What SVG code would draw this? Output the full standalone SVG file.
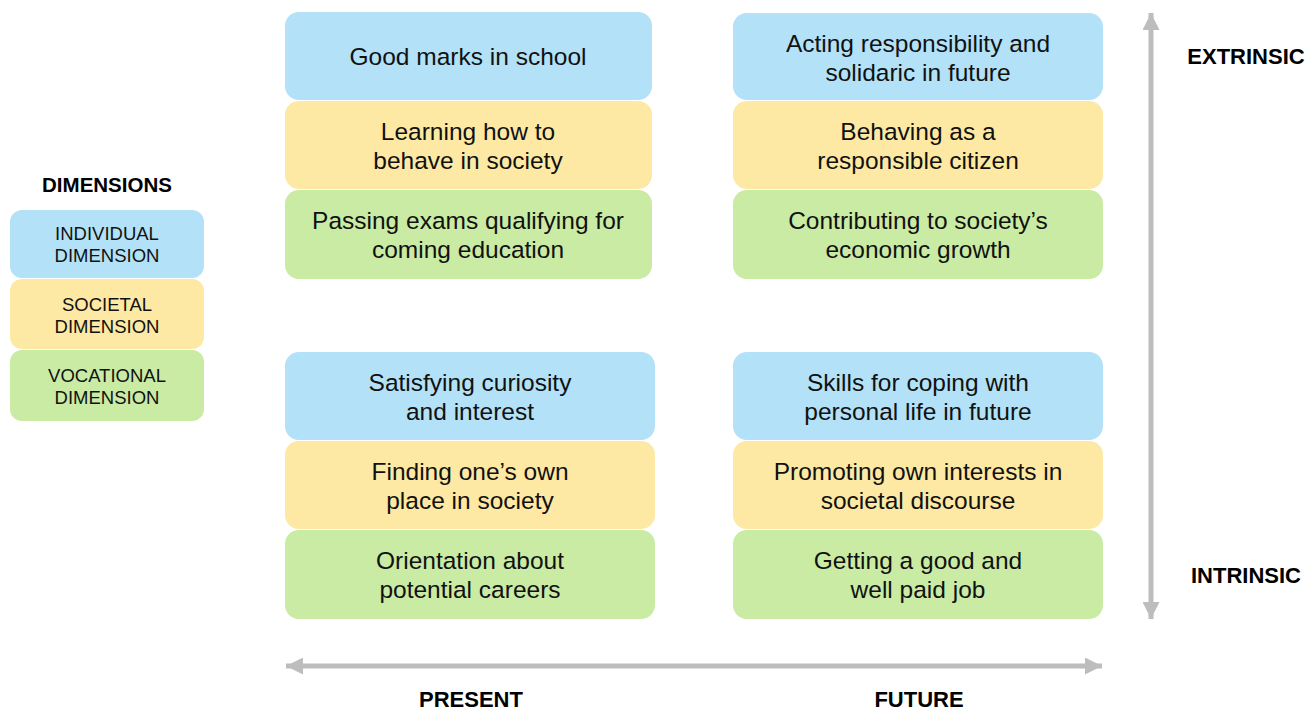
<svg xmlns="http://www.w3.org/2000/svg" width="1308" height="711" viewBox="0 0 1308 711">
<style>
.ind{fill:#b3e1f7}
.soc{fill:#fde9a3}
.voc{fill:#c9eba4}
.t{font-family:"Liberation Sans",Arial,sans-serif;font-size:24.5px;fill:#111;text-anchor:middle}
.lg{font-family:"Liberation Sans",Arial,sans-serif;font-size:18.5px;fill:#111;text-anchor:middle}
.h{font-family:"Liberation Sans",Arial,sans-serif;font-weight:bold;font-size:22px;fill:#000;text-anchor:middle}
.ax{stroke:#bdbdbd;stroke-width:5;fill:none}
</style>
<defs>
<marker id="ah" viewBox="0 0 10 10" refX="10" refY="5" markerWidth="3.4" markerHeight="3.4" markerUnits="strokeWidth" orient="auto-start-reverse">
<path d="M0,0 L10,5 L0,10 z" fill="#bdbdbd"/>
</marker>
</defs>

<g id="legend">
<text class="h" x="107" y="192" style="font-size:20.5px">DIMENSIONS</text>
<g id="legend-individual"><rect class="ind" x="10" y="210" width="194" height="68" rx="12"/><text class="lg" x="107" y="240">INDIVIDUAL</text><text class="lg" x="107" y="262">DIMENSION</text></g>
<g id="legend-societal"><rect class="soc" x="10" y="279" width="194" height="70" rx="12"/><text class="lg" x="107" y="311">SOCIETAL</text><text class="lg" x="107" y="333">DIMENSION</text></g>
<g id="legend-vocational"><rect class="voc" x="10" y="350" width="194" height="71" rx="12"/><text class="lg" x="107" y="382">VOCATIONAL</text><text class="lg" x="107" y="404">DIMENSION</text></g>
</g>

<g id="tl-ind"><rect class="ind" x="285" y="12" width="367" height="88" rx="14"/><text class="t" x="468" y="65">Good marks in school</text></g>
<g id="tl-soc"><rect class="soc" x="285" y="101" width="367" height="88" rx="14"/><text class="t" x="468" y="140">Learning how to</text><text class="t" x="468" y="169">behave in society</text></g>
<g id="tl-voc"><rect class="voc" x="285" y="190" width="367" height="89" rx="14"/><text class="t" x="468" y="229">Passing exams qualifying for</text><text class="t" x="468" y="258">coming education</text></g>

<g id="tr-ind"><rect class="ind" x="733" y="13" width="370" height="87" rx="14"/><text class="t" x="918" y="52">Acting responsibility and</text><text class="t" x="918" y="81">solidaric in future</text></g>
<g id="tr-soc"><rect class="soc" x="733" y="101" width="370" height="88" rx="14"/><text class="t" x="918" y="140">Behaving as a</text><text class="t" x="918" y="169">responsible citizen</text></g>
<g id="tr-voc"><rect class="voc" x="733" y="190" width="370" height="89" rx="14"/><text class="t" x="918" y="229">Contributing to society’s</text><text class="t" x="918" y="258">economic growth</text></g>

<g id="bl-ind"><rect class="ind" x="285" y="352" width="370" height="88" rx="14"/><text class="t" x="470" y="391">Satisfying curiosity</text><text class="t" x="470" y="420">and interest</text></g>
<g id="bl-soc"><rect class="soc" x="285" y="441" width="370" height="88" rx="14"/><text class="t" x="470" y="480">Finding one’s own</text><text class="t" x="470" y="509">place in society</text></g>
<g id="bl-voc"><rect class="voc" x="285" y="530" width="370" height="89" rx="14"/><text class="t" x="470" y="569">Orientation about</text><text class="t" x="470" y="598">potential careers</text></g>

<g id="br-ind"><rect class="ind" x="733" y="352" width="370" height="88" rx="14"/><text class="t" x="918" y="391">Skills for coping with</text><text class="t" x="918" y="420">personal life in future</text></g>
<g id="br-soc"><rect class="soc" x="733" y="441" width="370" height="88" rx="14"/><text class="t" x="918" y="480">Promoting own interests in</text><text class="t" x="918" y="509">societal discourse</text></g>
<g id="br-voc"><rect class="voc" x="733" y="530" width="370" height="89" rx="14"/><text class="t" x="918" y="569">Getting a good and</text><text class="t" x="918" y="598">well paid job</text></g>

<g id="connectors">
<line class="ax" x1="1151" y1="13" x2="1151" y2="619" marker-start="url(#ah)" marker-end="url(#ah)"/>
<line class="ax" x1="286" y1="666" x2="1102" y2="666" marker-start="url(#ah)" marker-end="url(#ah)"/>
</g>

<g id="labels">
<text class="h" x="1246" y="64">EXTRINSIC</text>
<text class="h" x="1246" y="583">INTRINSIC</text>
<text class="h" x="471" y="707">PRESENT</text>
<text class="h" x="919" y="707">FUTURE</text>
</g>
</svg>
